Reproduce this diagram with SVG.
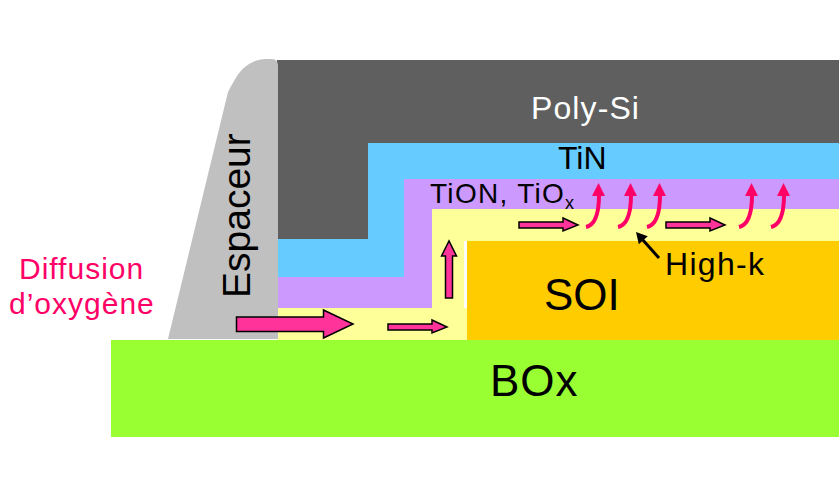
<svg xmlns="http://www.w3.org/2000/svg" width="839" height="478" viewBox="0 0 839 478">
<style>
text{font-family:"Liberation Sans",Arial,sans-serif;fill:#000}
.block{stroke:#000;stroke-width:1.5;fill:#FF3399;stroke-linejoin:miter}
.curve{fill:none;stroke:#FF0066;stroke-width:4}
.head{fill:#FF0066}
</style>
<defs>
<g id="curved">
<path class="curve" d="M0 44C9 42 13 30 13 12"/>
<path class="head" d="M12.500 0L19 13H6Z"/>
</g>
<path id="small" class="block" d="M0 -3H44V-7L59 0L44 6V3H0Z"/>
</defs>
<rect width="839" height="478" fill="#fff"/>
<g id="poly-si"><rect x="277" y="60" width="562" height="184" fill="#5F5F5F"/><text x="531" y="119" font-size="32" letter-spacing="1.100" style="fill:#fff">Poly-Si</text></g>
<g id="tin"><path d="M277 239H368V143H839V180H404V277H277Z" fill="#66CCFF"/><text x="558" y="169" font-size="32">TiN</text></g>
<g id="tion"><path d="M277 277H404V179H839V209H432V308H277Z" fill="#CC99FF"/><text x="430" y="203" font-size="28" letter-spacing="1.300">TiON, TiO<tspan font-size="18" dy="6" letter-spacing="0">x</tspan></text></g>
<g id="high-k-layer"><path d="M277 308H432V209H839V241H467V340H277Z" fill="#FFFF99"/><rect x="464" y="241" width="3" height="67" fill="#fff"/></g>
<g id="soi"><rect x="467" y="241" width="372" height="99" fill="#FFCC00"/><text x="544" y="310" font-size="44">SOI</text></g>
<g id="box"><rect x="111" y="340" width="728" height="97" fill="#99FF33"/><text x="490" y="396" font-size="44" letter-spacing="1">BOx</text></g>
<g id="espaceur"><path d="M168 339L228 92C232 84 236 77 240 72C244 67 248 64 253 62C257 60 261 59 266 59H272C276 59 278 62 278 66V339Z" fill="#C0C0C0"/><text transform="translate(250 298) rotate(-90)" font-size="39">Espaceur</text></g>
<g id="diffusion"><text x="19" y="279" font-size="30" letter-spacing="1" style="fill:#FF0066">Diffusion</text><text x="9" y="314" font-size="30" letter-spacing="1" style="fill:#FF0066">d’oxygène</text></g>
<g id="high-k"><text x="665" y="275" font-size="32" letter-spacing="1.300">High-k</text></g>
<g id="connectors">
<path class="block" d="M236.500 317H323.500V310L353 324L323.500 338V331.500H236.500Z"/>
<use href="#small" x="388" y="327"/>
<use href="#small" x="519" y="225"/>
<use href="#small" x="666" y="225"/>
<path class="block" d="M445.500 298V256H441.500L449 241L456.500 256H452.500V298Z"/>
<use href="#curved" x="586" y="183"/>
<use href="#curved" x="618" y="183"/>
<use href="#curved" x="647" y="183"/>
<use href="#curved" x="739" y="183"/>
<use href="#curved" x="771" y="183"/>
<path d="M659 258L642 239" stroke="#000" stroke-width="3" fill="none"/>
<path d="M636 232L647.800 236.200L638.800 244.200Z" fill="#000"/>
</g>
</svg>
